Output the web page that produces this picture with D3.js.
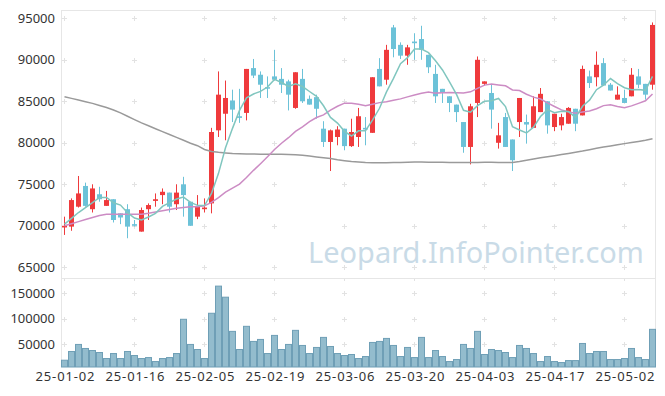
<!DOCTYPE html>
<html>
<head>
<meta charset="utf-8">
<script src="https://cdn.jsdelivr.net/npm/d3@7"></script>
<style>
  html, body { margin: 0; padding: 0; background: #fff; }
  svg { display: block; font-family: "Noto Sans", sans-serif; }
</style>
</head>
<body>
<div id="chart"></div>
<script>
// trading days shown on the chart
var dates = ["25-01-02","25-01-03","25-01-06","25-01-07","25-01-08","25-01-09","25-01-10","25-01-13","25-01-14","25-01-15",
  "25-01-16","25-01-17","25-01-20","25-01-21","25-01-22","25-01-23","25-01-24","25-01-31","25-02-03","25-02-04",
  "25-02-05","25-02-06","25-02-07","25-02-10","25-02-11","25-02-12","25-02-13","25-02-14","25-02-17","25-02-18",
  "25-02-19","25-02-20","25-02-21","25-02-24","25-02-25","25-02-26","25-02-27","25-02-28","25-03-04","25-03-05",
  "25-03-06","25-03-07","25-03-10","25-03-11","25-03-12","25-03-13","25-03-14","25-03-17","25-03-18","25-03-19",
  "25-03-20","25-03-21","25-03-24","25-03-25","25-03-26","25-03-27","25-03-28","25-03-31","25-04-01","25-04-02",
  "25-04-03","25-04-04","25-04-07","25-04-08","25-04-09","25-04-10","25-04-11","25-04-14","25-04-15","25-04-16",
  "25-04-17","25-04-18","25-04-21","25-04-22","25-04-23","25-04-24","25-04-25","25-04-28","25-04-29","25-04-30",
  "25-05-02","25-05-07","25-05-08","25-05-09","25-05-12"];

var open = [69800,69900,72300,74800,72000,73800,72400,73200,71500,72000,
  70200,69300,72000,73000,73700,74000,72600,75000,72900,71100,
  72000,72700,81500,83500,85100,83200,83600,89000,88200,86700,
  88000,87700,87400,84200,87700,85300,85500,81700,80100,80700,
  81700,79600,80700,81800,81200,88900,87600,93900,91800,90500,
  92200,92500,90600,88300,86500,85600,84600,82500,79500,84800,
  87100,86000,80000,83100,80400,82500,82500,81800,83700,85000,
  81900,82100,82300,84100,83300,88000,87900,89600,87000,85200,
  85400,85600,88000,87100,87000];
var high = [71100,73300,76000,75200,75000,74700,74200,73200,71500,72600,
  70700,72200,72700,73900,74500,74000,75000,75900,72900,73700,
  73300,81800,88600,87500,86400,86500,88900,90100,88600,88000,
  91200,89000,87600,88500,88900,85700,85800,82600,81600,82000,
  81700,82900,84200,83100,87900,90200,91800,94200,92100,91800,
  93200,94100,90600,89400,86500,85600,84600,82500,84700,90400,
  87400,87000,82400,83600,80400,85400,83400,85600,86600,85000,
  83500,83500,84300,84100,89300,88700,91000,90200,87200,86800,
  86400,89000,88900,87100,94500];
var low = [68900,69400,72200,72300,71600,72900,72400,70400,70200,68500,
  69900,69300,70700,72300,72600,71600,71900,71100,70000,70800,
  71600,71500,80700,80300,82500,82400,82700,87800,85400,85400,
  87500,86000,83900,84100,84800,84600,82900,79500,76600,79700,
  79100,79500,79500,79700,81200,86800,87000,90300,90100,89400,
  90000,90000,88400,84800,84800,83700,82500,78800,77400,83100,
  86900,81700,79300,79500,76600,80700,79900,81800,83700,81100,
  81400,81500,82300,81400,83300,86600,86800,86900,86300,85200,
  84800,85600,86600,85200,86400];
var close = [70000,73100,73900,72400,74500,73200,73100,70700,71000,69900,
  70000,71900,72500,73200,74100,72300,74000,73700,70000,72300,
  72200,81300,85800,85400,84000,83000,88900,88100,87000,86600,
  87600,87000,85800,88500,85000,84600,84100,80100,81500,81600,
  79600,81300,83200,81600,87900,86800,91200,91300,90500,91500,
  92000,91200,89100,85600,86000,84800,83700,79500,84400,90000,
  87400,84000,80900,79500,77900,85400,82200,84400,85900,82100,
  83500,83100,84200,82300,88900,87200,89400,86900,86300,85800,
  84800,88200,87000,85800,94200];
var volume = [18500,35600,49400,41500,37500,33600,21800,31600,21800,35600,
  27700,21800,23700,15900,21800,23700,31600,98700,49400,39500,
  21800,110500,163700,142000,75000,39500,84900,55300,59200,31600,
  67100,39500,49400,77000,47400,31600,43500,63200,45400,31600,
  27700,29700,21800,25700,53300,55300,61200,47400,25700,43500,
  23700,63200,23700,37500,25700,15900,19800,49400,41500,75000,
  29700,39500,37500,33600,23700,47400,41500,31600,15900,25700,
  15900,13900,17800,17800,51300,31600,35600,35600,19800,19800,
  21800,41500,23700,19800,79000];

// moving averages: start values (they need days before the window)
var ma5Lead = [70200,70900,71600,72200];
var ma20Lead = [70000,70250,70500,70750,71000,71250,71400,71400,71400,71400,
  71400,71400,71500,71650,71800,71950,72100,72200,72300];
// long moving average (gray)
var maLong = [85550,85350,85150,84950,84750,84500,84250,83950,83600,83200,
  82800,82400,82050,81700,81350,81000,80650,80300,79950,79650,
  79200,78950,78850,78780,78720,78680,78650,78640,78630,78620,
  78620,78610,78600,78550,78500,78400,78300,78200,78100,77950,
  77850,77750,77680,77620,77600,77600,77600,77620,77640,77660,
  77680,77680,77670,77660,77650,77640,77630,77620,77620,77630,
  77650,77650,77640,77620,77620,77750,77900,78050,78200,78320,
  78450,78580,78720,78860,79000,79170,79330,79480,79620,79760,
  79900,80030,80170,80320,80500];

var priceTicks = [65000,70000,75000,80000,85000,90000,95000];
var volumeTicks = [50000,100000,150000];
var labelEvery = 10;

function movingAvg(n, lead) {
  return close.map(function(c, i) {
    if (i < n - 1) return lead[i];
    return d3.mean(close.slice(i - n + 1, i + 1));
  });
}
var ma5 = movingAvg(5, ma5Lead);
var ma20 = movingAvg(20, ma20Lead);

var width = 665, height = 396;
var left = 61.5, right = 655.5, priceTop = 10, priceBottom = 278, volBottom = 367;

var svg = d3.select('#chart').append('svg')
  .attr('width', width)
  .attr('height', height);

var x = d3.scaleLinear().domain([-0.5, dates.length - 0.5]).range([61, 656]);
var y = d3.scaleLinear().domain([63710, 96000]).range([priceBottom, priceTop]);
var yv = d3.scaleLinear().domain([5200, 179600]).range([volBottom, priceBottom]);

var idx = d3.range(dates.length);
var tickIdx = idx.filter(function(i) { return i % labelEvery == 0; });

// watermark, sized to span the same width as in the original
var wm = svg.append('text')
  .attr('x', 476).attr('y', 263)
  .attr('text-anchor', 'middle')
  .attr('font-size', 32)
  .attr('fill', '#c9dbe7')
  .text('Leopard.InfoPointer.com');
var wmLen = wm.node().getComputedTextLength();
if (wmLen > 0) wm.attr('font-size', 32 * 336 / wmLen);

// grid crosses
function crosses(yScale, ticks) {
  var pts = [];
  tickIdx.forEach(function(i) { ticks.forEach(function(t) { pts.push([x(i), Math.round(yScale(t)) + 0.5]); }); });
  svg.append('g').selectAll('path').data(pts).enter().append('path')
    .attr('d', function(d) { return 'M' + (d[0] - 2.5) + ',' + d[1] + 'h5M' + d[0] + ',' + (d[1] - 2.5) + 'v5'; })
    .attr('stroke', '#e2e2e2').attr('stroke-width', 1);
}
crosses(y, priceTicks);
crosses(yv, volumeTicks);
svg.append('g').selectAll('line').data(tickIdx).enter().append('line')
  .attr('x1', function(i) { return x(i); }).attr('x2', function(i) { return x(i); })
  .attr('y1', priceBottom).attr('y2', priceBottom + 3)
  .attr('stroke', '#e2e2e2');

// panel frames
svg.append('rect').attr('x', left).attr('y', priceTop + 0.5)
  .attr('width', right - left).attr('height', priceBottom - priceTop)
  .attr('fill', 'none').attr('stroke', '#e6e6e6');
svg.append('path')
  .attr('d', 'M' + left + ',' + priceBottom + 'V' + volBottom + 'M' + right + ',' + priceBottom + 'V' + volBottom)
  .attr('stroke', '#e6e6e6').attr('fill', 'none');

// volume bars
svg.append('g').selectAll('rect').data(idx).enter().append('rect')
  .attr('x', function(i) { return x(i) - 3; })
  .attr('y', function(i) { return yv(volume[i]); })
  .attr('width', 6)
  .attr('height', function(i) { return volBottom - yv(volume[i]); })
  .attr('fill', '#93bccd')
  .attr('stroke', '#6f9fb6')
  .attr('stroke-width', 1);

// candles: red = up, blue = down
var up = '#ef3a3c', down = '#6cc2d8';
var candles = svg.append('g').selectAll('g').data(idx).enter().append('g');
candles.append('line')
  .attr('x1', function(i) { return x(i); }).attr('x2', function(i) { return x(i); })
  .attr('y1', function(i) { return y(high[i]); })
  .attr('y2', function(i) { return y(low[i]); })
  .attr('stroke', function(i) { return close[i] >= open[i] ? up : down; })
  .attr('stroke-width', 1);
candles.append('rect')
  .attr('x', function(i) { return x(i) - 2.5; })
  .attr('y', function(i) { return y(Math.max(open[i], close[i])); })
  .attr('width', 5)
  .attr('height', function(i) { return Math.max(1.5, Math.abs(y(open[i]) - y(close[i]))); })
  .attr('fill', function(i) { return close[i] >= open[i] ? up : down; });

// moving average lines
var line = d3.line().x(function(d, i) { return x(i); }).y(function(d) { return y(d); });
[[maLong, '#9a9a9a'], [ma20, '#cc8cc4'], [ma5, '#80c6bf']].forEach(function(s) {
  svg.append('path').datum(s[0])
    .attr('d', line)
    .attr('fill', 'none')
    .attr('stroke', s[1])
    .attr('stroke-width', 1.5);
});

// axes
var yAxis = svg.append('g').attr('transform', 'translate(55,0)')
  .call(d3.axisLeft(y).tickValues(priceTicks).tickSize(0).tickPadding(0).tickFormat(d3.format('d')));
var vAxis = svg.append('g').attr('transform', 'translate(55,0)')
  .call(d3.axisLeft(yv).tickValues(volumeTicks).tickSize(0).tickPadding(0).tickFormat(d3.format('d')));
var xAxis = svg.append('g').attr('transform', 'translate(0,' + volBottom + ')')
  .call(d3.axisBottom(x).tickValues(tickIdx).tickSize(0).tickPadding(5)
    .tickFormat(function(i) { return dates[i]; }));
[yAxis, vAxis, xAxis].forEach(function(a) {
  a.select('.domain').remove();
  a.selectAll('text').attr('font-size', 13).attr('font-family', '"Noto Sans", sans-serif').attr('fill', '#333');
});
xAxis.selectAll('text').attr('textLength', 59).attr('lengthAdjust', 'spacing');
</script>
</body>
</html>
